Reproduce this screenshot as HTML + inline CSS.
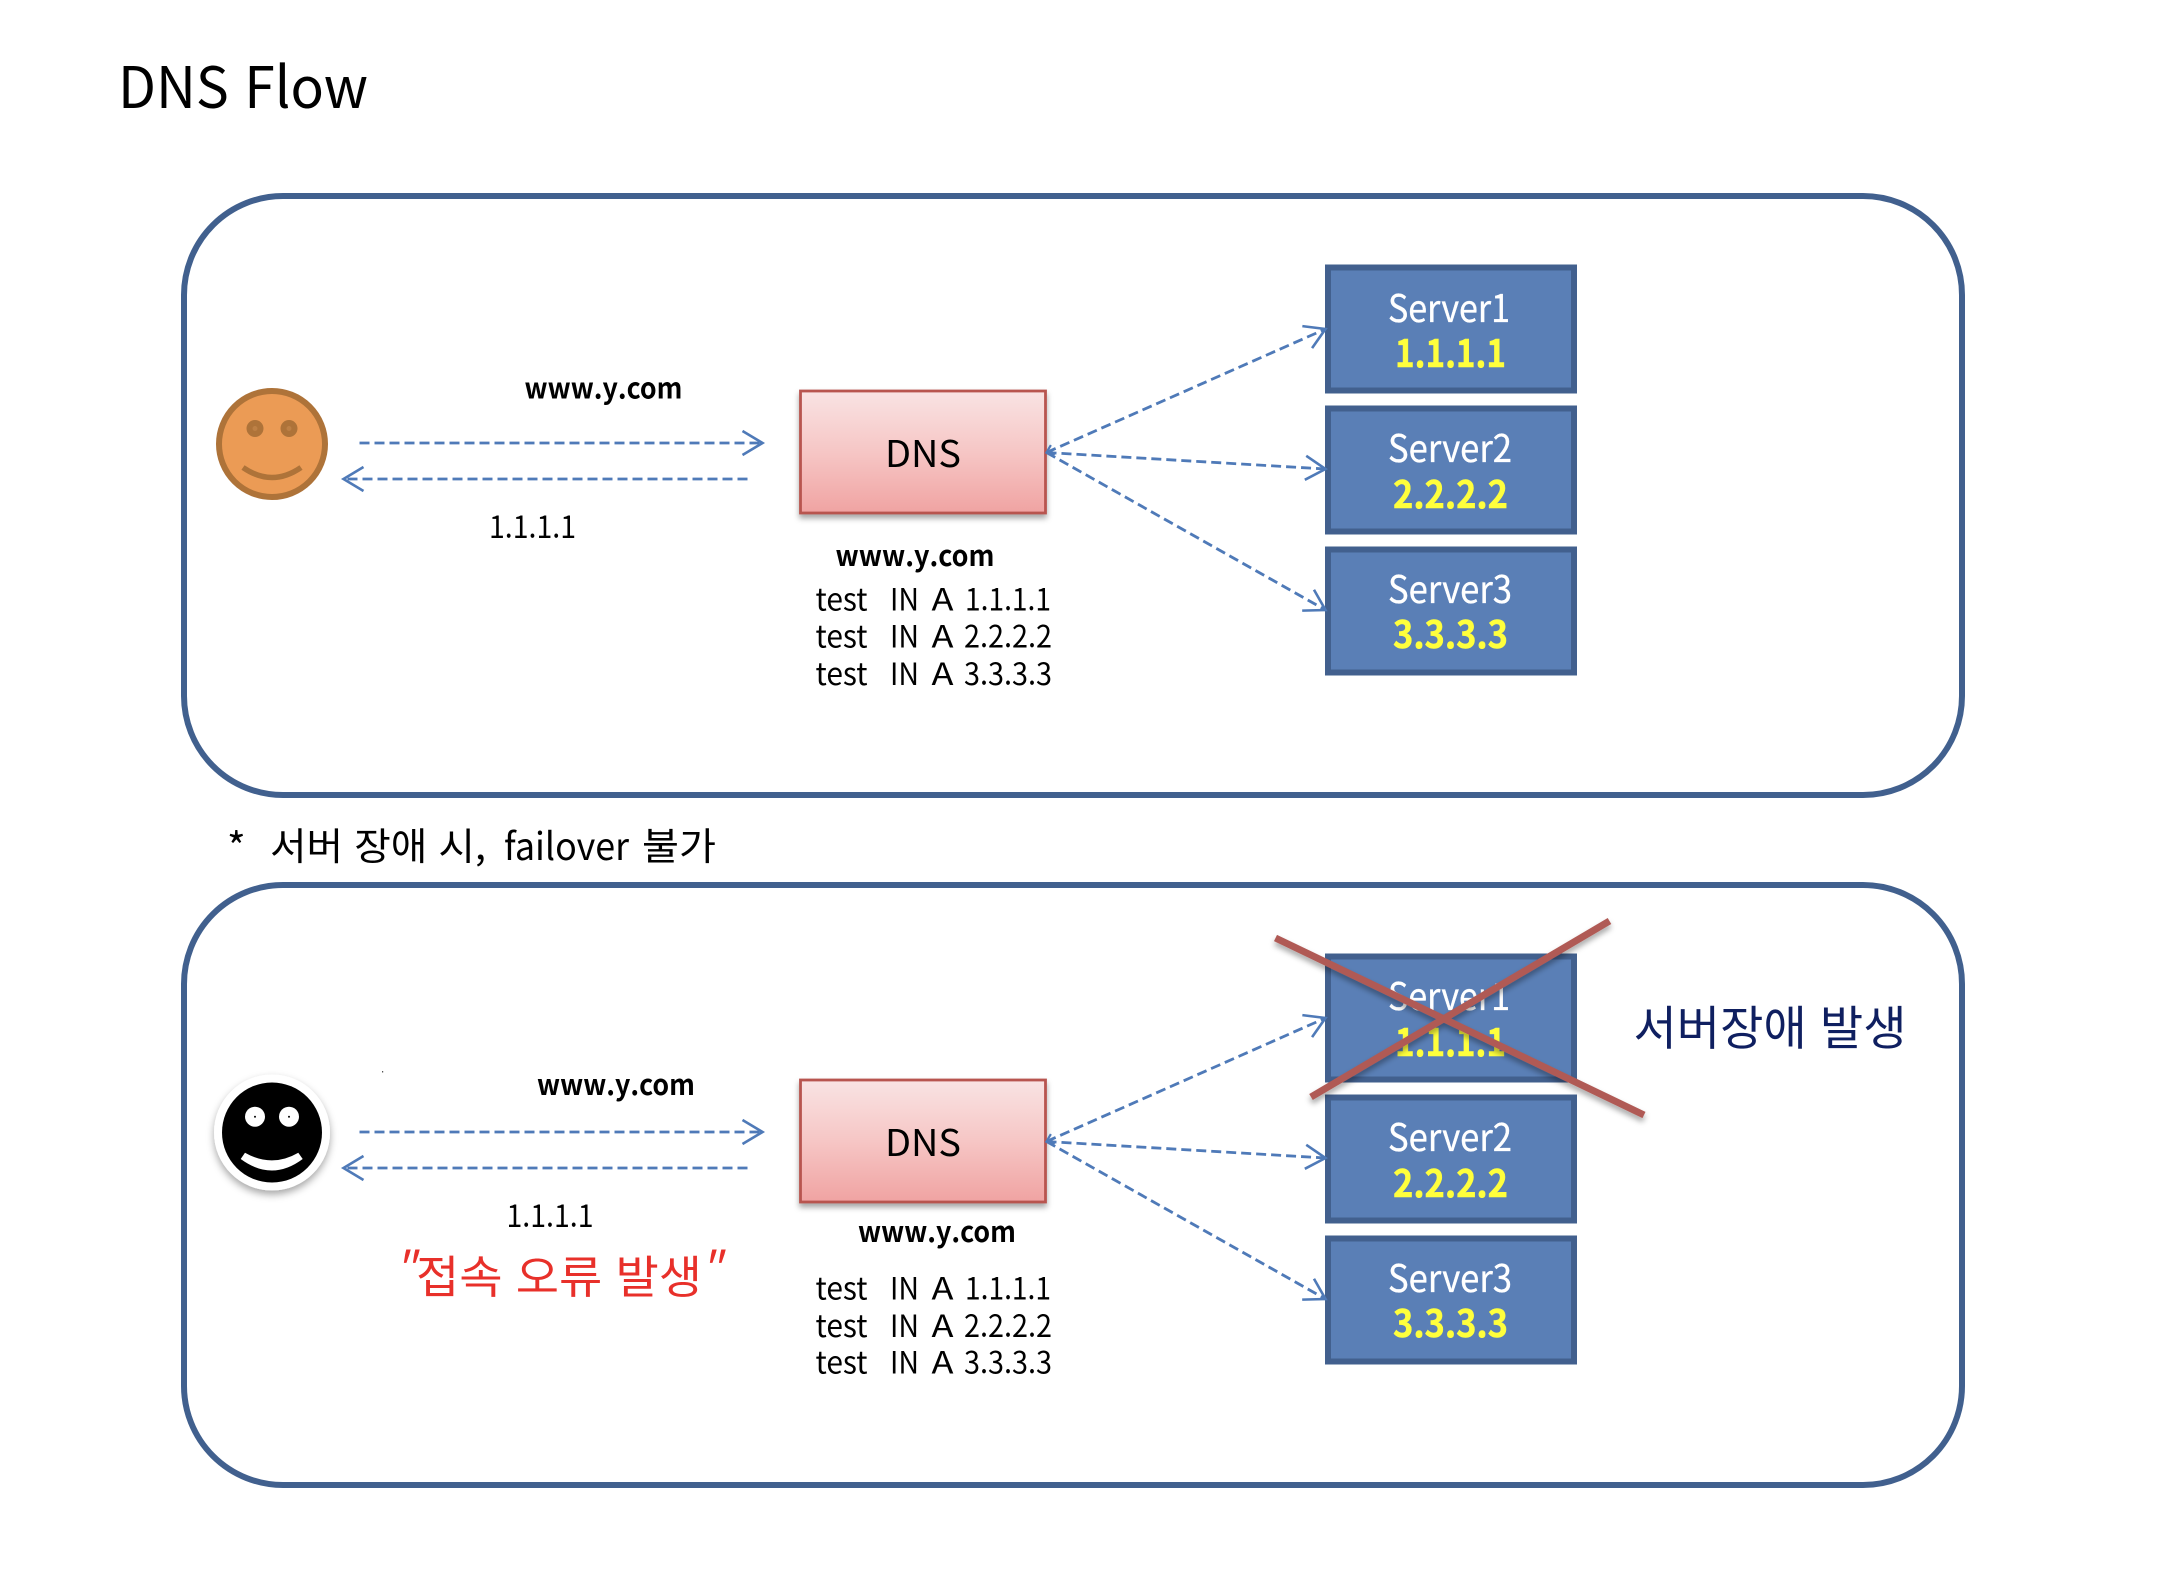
<!DOCTYPE html>
<html lang="ko">
<head>
<meta charset="utf-8">
<title>DNS Flow</title>
<style>
html,body{margin:0;padding:0;background:#fff}
svg{display:block}
text{font-family:"Noto Sans CJK KR","Liberation Sans",sans-serif;fill:#000}
.b{font-weight:700}
.w{fill:#fff;stroke:#fff;stroke-width:.35}
.y{fill:#ffff3c;stroke:#ffff3c;stroke-width:.5;font-weight:700}
</style>
</head>
<body>
<svg xmlns="http://www.w3.org/2000/svg" width="2170" height="1590" viewBox="0 0 2170 1590">
<defs>
  <linearGradient id="g" x1="0" y1="0" x2="0" y2="1">
    <stop offset="0" stop-color="#f9e3e3"/>
    <stop offset="0.5" stop-color="#f6c6c5"/>
    <stop offset="1" stop-color="#f0a3a2"/>
  </linearGradient>
  <filter id="s" x="-10%" y="-10%" width="120%" height="130%">
    <feDropShadow dx="0" dy="4" stdDeviation="3" flood-color="#000" flood-opacity=".35"/>
  </filter>
  <filter id="s2" x="-20%" y="-20%" width="140%" height="150%">
    <feDropShadow dx="0" dy="4" stdDeviation="4" flood-color="#000" flood-opacity=".35"/>
  </filter>
  <marker id="a" markerUnits="userSpaceOnUse" markerWidth="50" markerHeight="50" refX="25" refY="25" orient="auto">
    <path d="M5,13 L25,25 L5,37" fill="none" stroke="#4f7ab8" stroke-width="2.6"/>
  </marker>
  <marker id="sm" markerUnits="userSpaceOnUse" markerWidth="20" markerHeight="20" refX="2" refY="10" orient="auto">
    <path d="M9,5 L2,10 L9,15" fill="none" stroke="#4f7ab8" stroke-width="2.2"/>
  </marker>
  <g id="flow" fill="none" stroke="#4f7ab8" stroke-width="2.8" stroke-dasharray="10 5">
    <line x1="360" y1="444" x2="763" y2="444" marker-end="url(#a)"/>
    <line x1="748" y1="480" x2="344" y2="480" marker-end="url(#a)"/>
    <line x1="1047" y1="453.5" x2="1326" y2="330" marker-start="url(#sm)" marker-end="url(#a)"/>
    <line x1="1047" y1="453.5" x2="1326" y2="470" marker-end="url(#a)"/>
    <line x1="1047" y1="453.5" x2="1326" y2="611" marker-end="url(#a)"/>
  </g>
  <g id="boxes">
    <rect x="801" y="392" width="245" height="122" fill="url(#g)" stroke="#b85450" stroke-width="2.8" filter="url(#s)"/>
    <rect x="1328.5" y="268.5" width="246" height="123" fill="#5a7fb6" stroke="#42608e" stroke-width="6"/>
    <rect x="1328.5" y="409.5" width="246" height="123" fill="#5a7fb6" stroke="#42608e" stroke-width="6"/>
    <rect x="1328.5" y="550.5" width="246" height="123" fill="#5a7fb6" stroke="#42608e" stroke-width="6"/>
  </g>
</defs>

<rect width="2170" height="1590" fill="#fff"/>

<text x="118" y="108" font-size="57" textLength="250" lengthAdjust="spacingAndGlyphs">DNS Flow</text>

<rect x="184" y="196" width="1778" height="599" rx="99" ry="99" fill="#fff" stroke="#41608e" stroke-width="6"/>
<rect x="184" y="885" width="1778" height="600" rx="99" ry="99" fill="#fff" stroke="#41608e" stroke-width="6"/>

<!-- panel 1 -->
<g transform="translate(-0.5,-1)">
  <use href="#boxes"/>
  <use href="#flow"/>
</g>
<circle cx="272" cy="444" r="53" fill="#eb9b55" stroke="#ae7339" stroke-width="6"/>
<circle cx="255" cy="428.5" r="8.5" fill="#ae7339"/>
<circle cx="289" cy="428.5" r="8.5" fill="#ae7339"/>
<circle cx="255" cy="428.5" r="2.5" fill="#bd8045"/>
<circle cx="289" cy="428.5" r="2.5" fill="#bd8045"/>
<path d="M243,467.5 Q272,487.5 301,467.5" fill="none" stroke="#ae7339" stroke-width="5.5"/>

<text x="524.5" y="398.5" font-size="29" class="b" textLength="158" lengthAdjust="spacingAndGlyphs">www.y.com</text>
<text x="489" y="538" font-size="31" textLength="87" lengthAdjust="spacingAndGlyphs">1.1.1.1</text>
<text x="885" y="467" font-size="37" textLength="76" lengthAdjust="spacingAndGlyphs">DNS</text>
<text x="835.5" y="566" font-size="29" class="b" textLength="159" lengthAdjust="spacingAndGlyphs">www.y.com</text>
<g font-size="31">
  <text x="815.5" y="610.5" textLength="52" lengthAdjust="spacingAndGlyphs">test</text>
  <text x="890" y="610.5" textLength="29" lengthAdjust="spacingAndGlyphs">IN</text>
  <text x="931.5" y="610.5" textLength="22" lengthAdjust="spacingAndGlyphs">A</text>
  <text x="965" y="610.5" textLength="86" lengthAdjust="spacingAndGlyphs">1.1.1.1</text>
  <text x="815.5" y="647.5" textLength="52" lengthAdjust="spacingAndGlyphs">test</text>
  <text x="890" y="647.5" textLength="29" lengthAdjust="spacingAndGlyphs">IN</text>
  <text x="931.5" y="647.5" textLength="22" lengthAdjust="spacingAndGlyphs">A</text>
  <text x="964" y="647.5" textLength="88" lengthAdjust="spacingAndGlyphs">2.2.2.2</text>
  <text x="815.5" y="685" textLength="52" lengthAdjust="spacingAndGlyphs">test</text>
  <text x="890" y="685" textLength="29" lengthAdjust="spacingAndGlyphs">IN</text>
  <text x="931.5" y="685" textLength="22" lengthAdjust="spacingAndGlyphs">A</text>
  <text x="964" y="685" textLength="88" lengthAdjust="spacingAndGlyphs">3.3.3.3</text>
</g>
<g font-size="38">
  <text x="1388" y="322" class="w" textLength="122" lengthAdjust="spacingAndGlyphs">Server1</text>
  <text x="1395" y="367" class="y" textLength="111" lengthAdjust="spacingAndGlyphs">1.1.1.1</text>
  <text x="1388" y="462" class="w" textLength="124" lengthAdjust="spacingAndGlyphs">Server2</text>
  <text x="1393" y="508" class="y" textLength="115" lengthAdjust="spacingAndGlyphs">2.2.2.2</text>
  <text x="1388" y="603" class="w" textLength="124" lengthAdjust="spacingAndGlyphs">Server3</text>
  <text x="1393" y="648" class="y" textLength="115" lengthAdjust="spacingAndGlyphs">3.3.3.3</text>
</g>

<!-- note -->
<g font-size="38">
  <text x="227" y="862" font-size="40">*</text>
  <text x="270" y="860" textLength="216" lengthAdjust="spacingAndGlyphs">서버 장애 시,</text>
  <text x="504" y="860" textLength="125" lengthAdjust="spacingAndGlyphs">failover</text>
  <text x="642" y="860" textLength="74" lengthAdjust="spacingAndGlyphs">불가</text>
</g>

<!-- panel 2 -->
<g transform="translate(-0.5,688)">
  <use href="#boxes"/>
  <use href="#flow"/>
</g>
<g filter="url(#s2)">
  <circle cx="272" cy="1132.5" r="58" fill="#fff"/>
</g>
<circle cx="272" cy="1132.5" r="50" fill="#000"/>
<circle cx="255" cy="1116.7" r="10" fill="#fff"/>
<circle cx="289" cy="1116.7" r="10" fill="#fff"/>
<circle cx="255" cy="1116.7" r="1" fill="#000"/>
<circle cx="289" cy="1116.7" r="1" fill="#000"/>
<path d="M240.7,1159 L245,1152.7 Q272,1168 298.3,1152.7 L302.7,1159 Q272,1182 240.7,1159 Z" fill="#fff"/>
<rect x="382" y="1071" width="1.2" height="1.5" fill="#555"/>

<text x="537" y="1095" font-size="29" class="b" textLength="158" lengthAdjust="spacingAndGlyphs">www.y.com</text>
<text x="506.5" y="1227" font-size="31" textLength="87" lengthAdjust="spacingAndGlyphs">1.1.1.1</text>
<text x="885" y="1156" font-size="37" textLength="76" lengthAdjust="spacingAndGlyphs">DNS</text>
<text x="858" y="1242" font-size="29" class="b" textLength="158" lengthAdjust="spacingAndGlyphs">www.y.com</text>
<g font-size="31">
  <text x="815.5" y="1299.5" textLength="52" lengthAdjust="spacingAndGlyphs">test</text>
  <text x="890" y="1299.5" textLength="29" lengthAdjust="spacingAndGlyphs">IN</text>
  <text x="931.5" y="1299.5" textLength="22" lengthAdjust="spacingAndGlyphs">A</text>
  <text x="965" y="1299.5" textLength="86" lengthAdjust="spacingAndGlyphs">1.1.1.1</text>
  <text x="815.5" y="1337" textLength="52" lengthAdjust="spacingAndGlyphs">test</text>
  <text x="890" y="1337" textLength="29" lengthAdjust="spacingAndGlyphs">IN</text>
  <text x="931.5" y="1337" textLength="22" lengthAdjust="spacingAndGlyphs">A</text>
  <text x="964" y="1337" textLength="88" lengthAdjust="spacingAndGlyphs">2.2.2.2</text>
  <text x="815.5" y="1373.5" textLength="52" lengthAdjust="spacingAndGlyphs">test</text>
  <text x="890" y="1373.5" textLength="29" lengthAdjust="spacingAndGlyphs">IN</text>
  <text x="931.5" y="1373.5" textLength="22" lengthAdjust="spacingAndGlyphs">A</text>
  <text x="964" y="1373.5" textLength="88" lengthAdjust="spacingAndGlyphs">3.3.3.3</text>
</g>
<g font-size="38">
  <text x="1388" y="1010" class="w" textLength="122" lengthAdjust="spacingAndGlyphs">Server1</text>
  <text x="1395" y="1056" class="y" textLength="111" lengthAdjust="spacingAndGlyphs">1.1.1.1</text>
  <text x="1388" y="1151" class="w" textLength="124" lengthAdjust="spacingAndGlyphs">Server2</text>
  <text x="1393" y="1197" class="y" textLength="115" lengthAdjust="spacingAndGlyphs">2.2.2.2</text>
  <text x="1388" y="1292" class="w" textLength="124" lengthAdjust="spacingAndGlyphs">Server3</text>
  <text x="1393" y="1337" class="y" textLength="115" lengthAdjust="spacingAndGlyphs">3.3.3.3</text>
</g>

<g style="fill:#e8302a">
  <text x="392" y="1290" font-size="46" font-style="italic" style="fill:#e8302a">"</text>
  <text x="416" y="1293" font-size="45" style="fill:#e8302a" textLength="286" lengthAdjust="spacingAndGlyphs">접속 오류 발생</text>
  <text x="698" y="1290" font-size="46" font-style="italic" style="fill:#e8302a">"</text>
</g>
<text x="1633.5" y="1045" font-size="47" style="fill:#0f1f60" textLength="273" lengthAdjust="spacingAndGlyphs">서버장애 발생</text>

<g stroke="#b05a55" stroke-width="7" fill="none" filter="url(#s)">
  <line x1="1275.5" y1="938" x2="1644" y2="1115"/>
  <line x1="1609.5" y1="921" x2="1311" y2="1097"/>
</g>
</svg>
</body>
</html>
